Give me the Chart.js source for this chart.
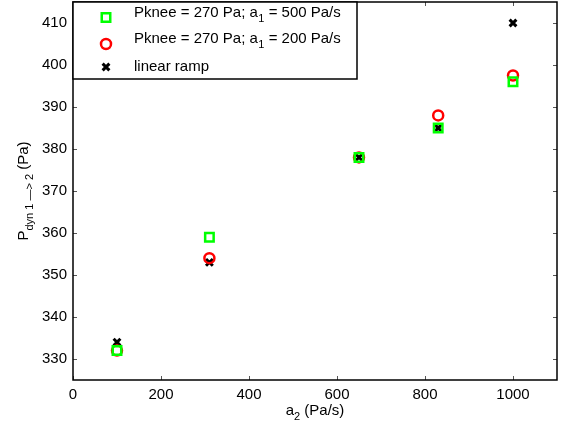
<!DOCTYPE html>
<html>
<head>
<meta charset="utf-8">
<script src="https://cdn.jsdelivr.net/npm/chart.js@4.4.0/dist/chart.umd.min.js"></script>
<style>
html,body{margin:0;padding:0;background:#fff;}
#wrap{width:564px;height:427px;position:relative;}
</style>
</head>
<body>
<div id="wrap"><canvas id="c" width="564" height="427"></canvas></div>
<script>
const xValues = [100, 310, 650, 830, 1000];
const seriesA500 = [332, 359, 378, 385, 396];
const seriesA200 = [332, 354, 378, 388, 397.5];
const linearRamp = [334, 353, 378, 385, 410];
const xTicks = [0, 200, 400, 600, 800, 1000];
const yTicks = [330, 340, 350, 360, 370, 380, 390, 400, 410];

const FONT = '"Liberation Sans", Arial, Helvetica, sans-serif';
const FS = 15, FSS = 11;

function pts(ys){ return xValues.map((x,i)=>({x:x, y:ys[i]})); }

const boxPlugin = {
  id: 'boxPlugin',
  afterDatasetsDraw(chart){
    const ctx = chart.ctx, a = chart.chartArea;
    const xs = chart.scales.x, ys = chart.scales.y;
    ctx.save();
    // inward ticks
    ctx.strokeStyle = '#555';
    ctx.lineWidth = 1;
    const tl = 4;
    ctx.beginPath();
    xTicks.forEach(v=>{
      const px = Math.round(xs.getPixelForValue(v)) + 0.5;
      ctx.moveTo(px, a.bottom); ctx.lineTo(px, a.bottom - tl);
      ctx.moveTo(px, a.top); ctx.lineTo(px, a.top + tl);
    });
    yTicks.forEach(v=>{
      const py = Math.round(ys.getPixelForValue(v)) + 0.5;
      ctx.moveTo(a.left, py); ctx.lineTo(a.left + tl, py);
      ctx.moveTo(a.right, py); ctx.lineTo(a.right - tl, py);
    });
    ctx.stroke();
    // box
    ctx.strokeStyle = '#000';
    ctx.lineWidth = 1.5;
    ctx.strokeRect(a.left, a.top, a.right - a.left, a.bottom - a.top);

    // legend
    const lx = a.left, ly = a.top, lw = 284, lh = 77;
    ctx.fillStyle = '#fff';
    ctx.fillRect(lx, ly, lw, lh);
    ctx.strokeStyle = '#000';
    ctx.lineWidth = 1.5;
    ctx.strokeRect(lx, ly, lw, lh);
    const mx = 106;
    const rows = [
      {y: 17.5, ds: 0, main: 'Pknee = 270 Pa; a', sub: '1', rest: ' = 500 Pa/s', base: 17},
      {y: 44, ds: 1, main: 'Pknee = 270 Pa; a', sub: '1', rest: ' = 200 Pa/s', base: 43},
      {y: 67, ds: 2, main: 'linear ramp', sub: '', rest: '', base: 71}
    ];
    rows.forEach(r=>{
      const d = chart.data.datasets[r.ds];
      ctx.strokeStyle = d.borderColor;
      ctx.fillStyle = d.backgroundColor;
      ctx.lineWidth = d.borderWidth;
      Chart.helpers.drawPoint(ctx, {pointStyle: d.pointStyle, radius: d.pointRadius, borderWidth: d.borderWidth, rotation: 0}, mx, r.y);
      ctx.fillStyle = '#000';
      ctx.textBaseline = 'alphabetic';
      ctx.textAlign = 'left';
      ctx.font = FS + 'px ' + FONT;
      let tx = 134;
      ctx.fillText(r.main, tx, r.base);
      tx += ctx.measureText(r.main).width;
      if (r.sub){
        ctx.font = FSS + 'px ' + FONT;
        ctx.fillText(r.sub, tx + 0.5, r.base + 5);
        tx += ctx.measureText(r.sub).width + 0.5;
        ctx.font = FS + 'px ' + FONT;
        ctx.fillText(r.rest, tx, r.base);
      }
    });

    // x title
    ctx.fillStyle = '#000';
    ctx.textAlign = 'left';
    ctx.textBaseline = 'alphabetic';
    const xt = ['a', '2', ' (Pa/s)'];
    ctx.font = FS + 'px ' + FONT; const w1 = ctx.measureText(xt[0]).width;
    ctx.font = FSS + 'px ' + FONT; const w2 = ctx.measureText(xt[1]).width;
    ctx.font = FS + 'px ' + FONT; const w3 = ctx.measureText(xt[2]).width;
    let sx = (a.left + a.right)/2 - (w1 + w2 + w3)/2;
    const bx = 415;
    ctx.font = FS + 'px ' + FONT; ctx.fillText(xt[0], sx, bx); sx += w1;
    ctx.font = FSS + 'px ' + FONT; ctx.fillText(xt[1], sx, bx + 5); sx += w2;
    ctx.font = FS + 'px ' + FONT; ctx.fillText(xt[2], sx, bx);

    // y title (rotated)
    ctx.save();
    const cy = (a.top + a.bottom)/2;
    ctx.translate(28, cy);
    ctx.rotate(-Math.PI/2);
    const yt = ['P', 'dyn 1 \u2014> 2', ' (Pa)'];
    ctx.font = FS + 'px ' + FONT; const v1 = ctx.measureText(yt[0]).width;
    ctx.font = FSS + 'px ' + FONT; const v2 = ctx.measureText(yt[1]).width;
    ctx.font = FS + 'px ' + FONT; const v3 = ctx.measureText(yt[2]).width;
    let ty = -(v1 + v2 + v3)/2;
    ctx.font = FS + 'px ' + FONT; ctx.fillText(yt[0], ty, 0); ty += v1;
    ctx.font = FSS + 'px ' + FONT; ctx.fillText(yt[1], ty, 5); ty += v2;
    ctx.font = FS + 'px ' + FONT; ctx.fillText(yt[2], ty, 0);
    ctx.restore();

    ctx.restore();
  }
};

new Chart(document.getElementById('c'), {
  type: 'scatter',
  data: {
    datasets: [
      {label: 'Pknee = 270 Pa; a1 = 500 Pa/s', data: pts(seriesA500), pointStyle: 'rect',
       pointRadius: 6, borderColor: '#00ff00', backgroundColor: 'rgba(0,0,0,0)', borderWidth: 2.5},
      {label: 'Pknee = 270 Pa; a1 = 200 Pa/s', data: pts(seriesA200), pointStyle: 'circle',
       pointRadius: 5, borderColor: '#ff0000', backgroundColor: 'rgba(0,0,0,0)', borderWidth: 2.5},
      {label: 'linear ramp', data: pts(linearRamp), pointStyle: 'crossRot',
       pointRadius: 4.8, borderColor: '#000000', backgroundColor: '#000000', borderWidth: 3}
    ]
  },
  options: {
    responsive: false,
    animation: false,
    events: [],
    layout: {autoPadding: false, padding: {top: 2, right: 7, left: 0, bottom: 0}},
    plugins: {legend: {display: false}, tooltip: {enabled: false}},
    scales: {
      x: {
        type: 'linear', min: 0, max: 1100,
        afterBuildTicks(s){ s.ticks = xTicks.map(v=>({value:v})); },
        afterFit(s){ s.height = 47; s.paddingLeft = 0; s.paddingRight = 0; },
        grid: {display: false, drawTicks: false},
        border: {display: false},
        ticks: {color: '#000', font: {size: FS, family: FONT}, padding: 6, maxRotation: 0,
                callback: v => String(v)}
      },
      y: {
        type: 'linear', min: 325, max: 415,
        afterBuildTicks(s){ s.ticks = yTicks.map(v=>({value:v})); },
        afterFit(s){ s.width = 73; s.paddingTop = 0; s.paddingBottom = 0; },
        grid: {display: false, drawTicks: false},
        border: {display: false},
        ticks: {color: '#000', font: {size: FS, family: FONT}, padding: 6,
                callback: v => String(v)}
      }
    }
  },
  plugins: [boxPlugin]
});
</script>
</body>
</html>
